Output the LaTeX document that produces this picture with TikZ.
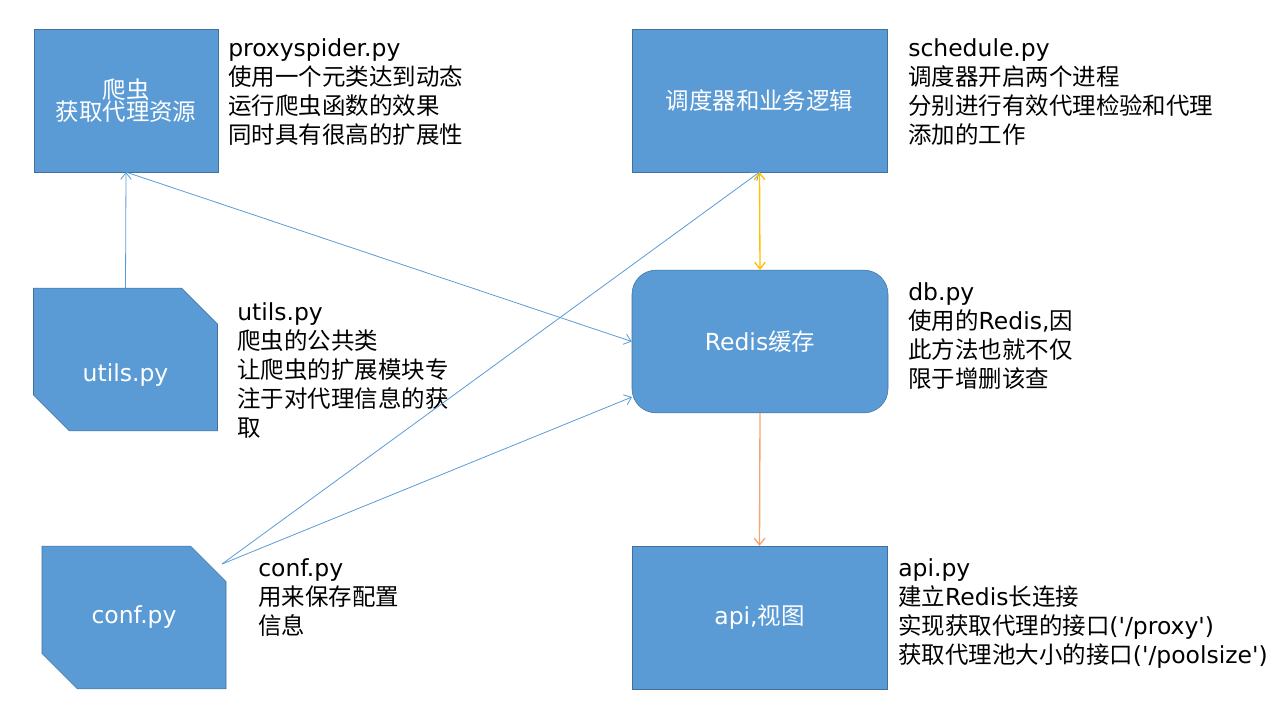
\documentclass[tikz,border=0pt]{standalone}
\usepackage{fontspec}
\setmainfont{DejaVu Sans}
\newfontfamily\cjkfont{Noto Sans CJK SC}
\newcommand{\zh}[1]{{\cjkfont #1}}
\newcommand{\boxfont}{\fontsize{17.6pt}{16.8pt}\selectfont\lineskiplimit -100pt\relax}
\usetikzlibrary{arrows.meta,shapes.misc}
\definecolor{boxfill}{HTML}{5B9BD5}
\definecolor{boxline}{HTML}{41719C}
\definecolor{bluelink}{HTML}{5B9BD5}
\definecolor{yellowlink}{HTML}{FFC000}
\definecolor{orangelink}{HTML}{F4A470}

\tikzset{
  barb/.tip={Straight Barb[length=5pt,width=8pt]},
  box/.style={draw=boxline, fill=boxfill, text=white, align=center, inner sep=0pt,
    minimum height=107pt, font=\boxfont},
  cutbox/.style={box, chamfered rectangle, chamfered rectangle corners={north east,south west},
    chamfered rectangle sep=18pt},
  note/.style={anchor=base west, align=left, inner sep=0pt, font=\fontsize{17.6pt}{21.75pt}\selectfont},
  link/.style={-barb, draw=bluelink, line width=0.6pt},
}

\begin{document}
\begin{tikzpicture}[x=0.75pt,y=-0.75pt]
  \useasboundingbox (0,0) rectangle (1280,720);

  % boxes
  \node[box, minimum width=138pt] (spider) at (126,100.5) {\zh{爬虫}\\\zh{获取代理资源}};
  \node[box, minimum width=191pt] (sched) at (759.5,100.5) {\zh{调度器和业务逻辑}};
  \node[box, minimum width=192pt, rounded corners=18pt] (redis) at (760,341.5) {Redis\zh{缓存}};
  \node[box, minimum width=191pt] (api) at (759.5,617.5) {api,\zh{视图}};
  \node[cutbox, minimum width=138pt] (utils) at (125.5,359.5) {\raisebox{-12pt}[13.4pt][4.2pt]{utils.py}};
  \node[cutbox, minimum width=138pt] (conf) at (134,617.5) {conf.py};

  % notes (placed by the baseline of the last line)
  \node[note] (spidernote) at (228,144) {proxyspider.py\\\zh{使用一个元类达到动态}\\\zh{运行爬虫函数的效果}\\\zh{同时具有很高的扩展性}};
  \node[note] (schednote) at (908,144) {schedule.py\\\zh{调度器开启两个进程}\\\zh{分别进行有效代理检验和代理}\\\zh{添加的工作}};
  \node[note] (redisnote) at (908,387) {db.py\\\zh{使用的}Redis,\zh{因}\\\zh{此方法也就不仅}\\\zh{限于增删该查}};
  \node[note] (utilsnote) at (237,436) {utils.py\\\zh{爬虫的公共类}\\\zh{让爬虫的扩展模块专}\\\zh{注于对代理信息的获}\\\zh{取}};
  \node[note] (confnote) at (258,634) {conf.py\\\zh{用来保存配置}\\\zh{信息}};
  \node[note] (apinote) at (898,663) {api.py\\\zh{建立}Redis\zh{长连接}\\\zh{实现获取代理的接口}(\textquotesingle/proxy\textquotesingle)\\\zh{获取代理池大小的接口}(\textquotesingle/poolsize\textquotesingle)};

  % links
  \coordinate (confout) at (222,564);
  \coordinate (redisin) at (632,397);
  \draw[link] (utils.north) -- (spider.south);
  \draw[link] (spider.south) -- (redis.west);
  \draw[link] (confout) -- (sched.south);
  \draw[link] (confout) -- (redisin);
  \draw[yellowlink, line width=1pt, barb-barb] (sched.south) -- (redis.north);
  \draw[orangelink, line width=1pt, -barb] (redis.south) -- (api.north);
\end{tikzpicture}
\end{document}
